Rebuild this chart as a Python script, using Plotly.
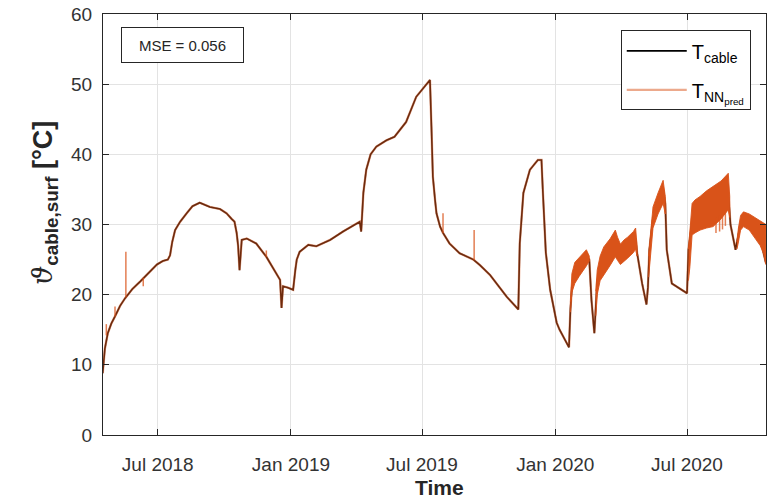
import plotly.graph_objects as go

# Measured cable surface temperature (black) — dates and values in °C
cable_dates = [
    "2018-04-16", "2018-04-17", "2018-04-19", "2018-04-23", "2018-04-28", "2018-05-03",
    "2018-05-10", "2018-05-17", "2018-05-27", "2018-06-07", "2018-06-18", "2018-06-30",
    "2018-07-08", "2018-07-15", "2018-07-18", "2018-07-21", "2018-07-25", "2018-08-01",
    "2018-08-10", "2018-08-18", "2018-08-28", "2018-09-04", "2018-09-11", "2018-09-25",
    "2018-10-04", "2018-10-11", "2018-10-15", "2018-10-18", "2018-10-20", "2018-10-22",
    "2018-10-25", "2018-11-01", "2018-11-14", "2018-11-28", "2018-12-12", "2018-12-17",
    "2018-12-19", "2018-12-21", "2018-12-28", "2019-01-04", "2019-01-07", "2019-01-09",
    "2019-01-13", "2019-01-25", "2019-02-05", "2019-02-24", "2019-03-14", "2019-04-06",
    "2019-04-08", "2019-04-11", "2019-04-15", "2019-04-21", "2019-04-29", "2019-05-13",
    "2019-05-24", "2019-06-09", "2019-06-23", "2019-07-12", "2019-07-14", "2019-07-16",
    "2019-07-19", "2019-07-21", "2019-07-26", "2019-07-30", "2019-08-08", "2019-08-22",
    "2019-09-10", "2019-09-19", "2019-10-03", "2019-10-26", "2019-11-11", "2019-11-12",
    "2019-11-13", "2019-11-18", "2019-11-27", "2019-12-08", "2019-12-13", "2019-12-15",
    "2019-12-19", "2019-12-25", "2020-01-03", "2020-01-07", "2020-01-19", "2020-01-20",
    "2020-01-22", "2020-01-24", "2020-01-30", "2020-02-13", "2020-02-17", "2020-02-20",
    "2020-02-24", "2020-02-26", "2020-02-28", "2020-03-08", "2020-03-24", "2020-03-31",
    "2020-04-10", "2020-04-21", "2020-04-23", "2020-04-30", "2020-05-06", "2020-05-08",
    "2020-05-10", "2020-05-15", "2020-05-22", "2020-05-29", "2020-06-01", "2020-06-03",
    "2020-06-10", "2020-06-26", "2020-07-01", "2020-07-03", "2020-07-08", "2020-07-19",
    "2020-08-06", "2020-08-27", "2020-08-30", "2020-09-06", "2020-09-13", "2020-09-17",
    "2020-10-03", "2020-10-10", "2020-10-18",
]
cable_vals = [
    8.8, 10.0, 12.3, 14.5, 15.9, 16.9,
    18.4, 19.5, 20.8, 21.9, 23.1, 24.3,
    24.8, 25.0, 25.6, 27.5, 29.2, 30.4,
    31.6, 32.6, 33.1, 32.8, 32.5, 32.2,
    31.6, 30.8, 30.4, 28.8, 27.0, 23.5,
    27.8, 28.0, 27.3, 25.4, 23.1, 22.1,
    18.1, 21.2, 21.0, 20.7, 23.5, 25.0,
    26.1, 27.1, 26.9, 27.8, 29.0, 30.4,
    29.0, 34.5, 37.8, 40.0, 41.1, 42.0,
    42.5, 44.6, 48.2, 50.6, 44.0, 36.8,
    33.5, 31.6, 29.7, 28.8, 27.3, 25.9,
    25.0, 24.2, 22.8, 19.7, 17.9, 22.0,
    27.3, 34.5, 37.8, 39.2, 39.2, 34.5,
    26.0, 20.7, 16.0, 15.0, 12.6, 12.5,
    18.0, 21.0, 23.5, 25.5, 25.0, 19.3,
    14.5, 18.5, 22.0, 24.8, 27.2, 25.8,
    26.7, 28.0, 26.0, 21.6, 18.6, 21.0,
    26.4, 31.0, 33.0, 35.0, 33.0, 26.4,
    21.6, 20.5, 20.2, 26.4, 30.5, 31.5,
    32.5, 34.5, 30.0, 26.4, 30.2, 30.8,
    29.5, 28.0, 24.5,
]

# Network prediction follows the measurement; isolated deviations listed below
pred_dates = list(cable_dates)
pred_vals = list(cable_vals)

# Short prediction spikes: date, start value, end value
spike_dates = ["2018-04-21", "2018-05-03", "2018-05-18", "2018-06-11", "2018-11-28",
               "2019-07-30", "2019-09-11", "2020-08-10", "2020-08-15", "2020-08-19",
               "2020-08-23"]
spike_from = [14.2, 16.9, 19.6, 22.4, 25.4, 28.8, 24.9, 31.0, 31.3, 31.5, 32.0]
spike_to = [15.8, 18.3, 26.1, 21.2, 26.3, 31.6, 29.2, 28.8, 29.0, 29.3, 29.8]

# Envelopes of the strongly oscillating prediction periods in 2020
bandA_dates = ["2020-01-22", "2020-01-24", "2020-01-28", "2020-02-03", "2020-02-08", "2020-02-13", "2020-02-17"]
bandA_upper = [19.0, 23.0, 24.6, 25.3, 25.8, 26.4, 25.5]
bandA_lower = [17.5, 20.3, 21.6, 22.6, 23.4, 24.1, 24.8]

bandB_dates = ["2020-02-26", "2020-02-28", "2020-03-03", "2020-03-08", "2020-03-17", "2020-03-24",
               "2020-03-27", "2020-03-31", "2020-04-05", "2020-04-10", "2020-04-18", "2020-04-21", "2020-04-23"]
bandB_upper = [20.5, 23.5, 25.5, 26.8, 28.0, 29.2, 28.2, 27.2, 27.8, 28.2, 29.0, 29.5, 27.0]
bandB_lower = [17.0, 20.0, 22.0, 22.8, 24.2, 25.4, 24.9, 24.3, 24.8, 25.2, 26.0, 26.5, 25.5]

bandC_dates = ["2020-05-09", "2020-05-12", "2020-05-15", "2020-05-22", "2020-05-29", "2020-06-01"]
bandC_upper = [25.5, 29.5, 32.5, 34.5, 36.3, 34.0]
bandC_lower = [22.5, 26.5, 29.5, 31.5, 33.0, 31.5]

bandD_dates = ["2020-07-03", "2020-07-05", "2020-07-08", "2020-07-12", "2020-07-19",
               "2020-07-28", "2020-08-06", "2020-08-17", "2020-08-27", "2020-08-29"]
bandD_upper = [26.5, 29.5, 33.0, 33.5, 34.0, 34.8, 35.4, 36.2, 37.3, 34.0]
bandD_lower = [22.0, 24.0, 28.5, 28.8, 29.2, 29.5, 29.7, 30.8, 32.1, 31.0]

bandE_dates = ["2020-09-08", "2020-09-10", "2020-09-13", "2020-09-17", "2020-09-25",
               "2020-10-03", "2020-10-10", "2020-10-15", "2020-10-18"]
bandE_upper = [27.5, 29.5, 31.3, 31.8, 31.5, 31.0, 30.6, 30.3, 30.0]
bandE_lower = [26.5, 27.5, 29.2, 29.7, 29.2, 28.0, 27.0, 25.8, 24.3]

mse_value = 0.056

FONT = "Liberation Sans, Arial, sans-serif"
ORANGE = "217,83,25"
AXCOL = "#262626"

fig = go.Figure()

fig.add_trace(go.Scatter(
    x=cable_dates, y=cable_vals, mode="lines", name="T<sub>cable</sub>",
    legendgroup="cable", line=dict(color="black", width=1.6),
))
fig.add_trace(go.Scatter(
    x=pred_dates, y=pred_vals, mode="lines", name="T<sub>NN<sub>pred</sub></sub>",
    legendgroup="pred", line=dict(color=f"rgba({ORANGE},0.5)", width=2.4),
))

for bd, bu, bl in [(bandA_dates, bandA_upper, bandA_lower),
                   (bandB_dates, bandB_upper, bandB_lower),
                   (bandC_dates, bandC_upper, bandC_lower),
                   (bandD_dates, bandD_upper, bandD_lower),
                   (bandE_dates, bandE_upper, bandE_lower)]:
    fig.add_trace(go.Scatter(
        x=bd + bd[::-1], y=bu + bl[::-1], mode="lines", fill="toself",
        fillcolor=f"rgb({ORANGE})", line=dict(color=f"rgba({ORANGE},0.9)", width=1),
        showlegend=False, hoverinfo="skip",
    ))

sx, sy = [], []
for d, a, b in zip(spike_dates, spike_from, spike_to):
    sx += [d, d, None]
    sy += [a, b, None]
fig.add_trace(go.Scatter(
    x=sx, y=sy, mode="lines", line=dict(color=f"rgba({ORANGE},0.75)", width=1.5),
    showlegend=False, hoverinfo="skip",
))

axis_common = dict(
    showline=True, linecolor=AXCOL, linewidth=1, mirror="ticks",
    ticks="inside", ticklen=6, tickcolor=AXCOL, automargin=False,
    showgrid=True, gridcolor="#e3e3e3", gridwidth=1, zeroline=False,
    tickfont=dict(family=FONT, size=19, color="#333333"),
)

fig.update_xaxes(
    range=["2018-04-16 10:00", "2020-10-18 02:00"],
    tick0="2018-07-01", dtick="M6", tickformat="%b %Y",
    ticklabelstandoff=12, **axis_common,
)
fig.update_yaxes(
    range=[0, 60], dtick=10, ticklabelstandoff=6, **axis_common,
)

fig.add_annotation(
    xref="paper", yref="paper", x=0.027, y=0.968, xanchor="left", yanchor="top",
    text=f"MSE = {mse_value:.3f}", showarrow=False,
    font=dict(family=FONT, size=15, color=AXCOL),
    bordercolor=AXCOL, borderwidth=1, borderpad=1, bgcolor="white",
    width=119, height=32,
)

# Axis labels
fig.add_annotation(
    xref="paper", yref="paper", x=0.508, y=-0.125, xanchor="center", yanchor="middle",
    text="<b>Time</b>", showarrow=False, font=dict(family=FONT, size=21, color=AXCOL),
)
fig.add_annotation(
    xref="paper", yref="paper", x=-0.088, y=0.55, xanchor="center", yanchor="middle",
    textangle=-90, showarrow=False,
    text=('<span style="font-family:DejaVu Serif;font-style:italic;font-weight:normal">ϑ</span>'
          '<b><sub>cable,surf</sub> [°C]</b>'),
    font=dict(family=FONT, size=27, color=AXCOL),
)

fig.update_layout(
    width=783, height=503,
    margin=dict(l=103, r=17, t=14, b=68),
    paper_bgcolor="white", plot_bgcolor="white",
    showlegend=True,
    legend=dict(
        x=0.977, y=0.961, xanchor="right", yanchor="top",
        bgcolor="white", bordercolor=AXCOL, borderwidth=1,
        font=dict(family=FONT, size=20, color="black"),
        itemwidth=60, tracegroupgap=10,
    ),
)

fig.write_html("out.html")
